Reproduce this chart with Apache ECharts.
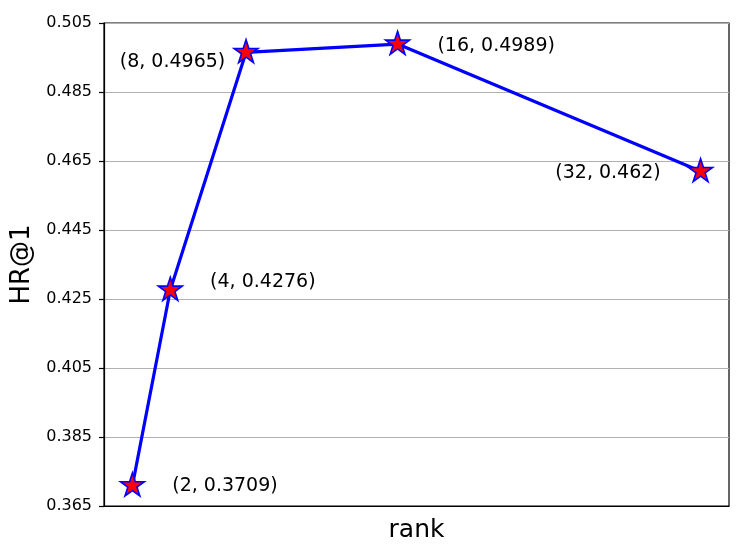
<!DOCTYPE html>
<html>
<head>
<meta charset="utf-8">
<script src="https://cdn.jsdelivr.net/npm/echarts@6/dist/echarts.min.js"></script>
<style>html,body{margin:0;padding:0;background:#fff}#c{width:747px;height:560px}</style>
</head>
<body>
<div id="c"></div>
<script>
var ranks = [2, 4, 8, 16, 32];
var hr1 = [0.3709, 0.4276, 0.4965, 0.4989, 0.462];
var yTicks = [0.365, 0.385, 0.405, 0.425, 0.445, 0.465, 0.485, 0.505];
var labelSide = ['right', 'right', 'left', 'right', 'left'];
var labelDist = [27, 27, 8, 27, 27];
var labelShift = [2, -7, 11, 3, 3];

var FONT = 'DejaVu Sans';
var star = 'path://M0,-100 L22.45,-30.9 L95.11,-30.9 L36.33,11.8 L58.78,80.9 L0,38.2 L-58.78,80.9 L-36.33,11.8 L-95.11,-30.9 L-22.45,-30.9 Z';

var data = ranks.map(function (r, i) {
  return {
    value: [r, hr1[i]],
    label: {
      show: true,
      position: labelSide[i],
      distance: labelDist[i],
      offset: [0, labelShift[i]],
      formatter: '(' + r + ', ' + String(hr1[i]) + ')'
    }
  };
});

var chart = echarts.init(document.getElementById('c'), null, {renderer: 'canvas'});
chart.setOption({
  animation: false,
  backgroundColor: '#ffffff',
  textStyle: {fontFamily: FONT},
  grid: {left: 104, right: 18, top: 23, bottom: 54, show: true, borderColor: '#000', borderWidth: 1.2, backgroundColor: 'transparent'},
  xAxis: {
    type: 'value', min: 0.5, max: 33.5,
    name: 'rank', nameLocation: 'middle', nameGap: 12,
    nameTextStyle: {fontSize: 25, color: '#000', fontFamily: FONT},
    axisLine: {show: true, lineStyle: {color: '#000', width: 1.2}},
    axisTick: {show: false}, axisLabel: {show: false}, splitLine: {show: false}
  },
  yAxis: {
    type: 'value', min: yTicks[0], max: yTicks[yTicks.length - 1], interval: 0.02,
    name: 'HR@1', nameLocation: 'middle', nameGap: 63,
    nameTextStyle: {fontSize: 26, color: '#000', fontFamily: FONT},
    axisLine: {show: true, lineStyle: {color: '#000', width: 1.2}},
    axisTick: {show: true, inside: false, length: 5, lineStyle: {color: '#000', width: 1.2}},
    axisLabel: {margin: 12, fontSize: 16, color: '#000', fontFamily: FONT,
      formatter: function (v) { return v.toFixed(3); }},
    splitLine: {show: true, lineStyle: {color: '#b0b0b0', width: 1.2}}
  },
  series: [{
    type: 'line',
    data: data,
    lineStyle: {color: '#0000ff', width: 3.2},
    symbol: star,
    symbolSize: [24, 23],
    symbolOffset: [0, -1.2],
    itemStyle: {color: '#ff0000', borderColor: '#0000ff', borderWidth: 1.6},
    label: {fontSize: 19, color: '#000', fontFamily: FONT},
    z: 3
  }]
});
</script>
</body>
</html>
